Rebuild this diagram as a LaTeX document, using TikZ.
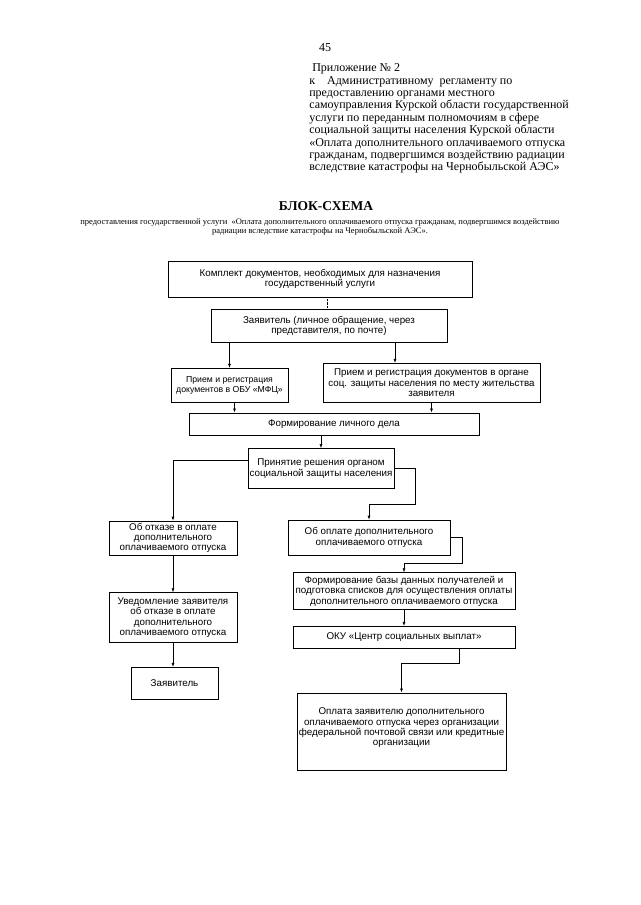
\documentclass[tikz,border=0pt]{standalone}
\usepackage{fontspec}
\setmainfont{Liberation Serif}
\newfontfamily\boxfont{Liberation Sans}
\usetikzlibrary{arrows.meta}
\usetikzlibrary{positioning}

\begin{document}
\begin{tikzpicture}[x=1pt, y=-1pt,
                >={Latex[length=4pt,width=3pt]},
                line width=0.6pt,
                block/.style = {shape=rectangle, draw, inner sep=1pt, align=center,
                                font=\boxfont\fontsize{9.8}{10.4}\selectfont},
                header/.style = {inner sep=0pt, align=left,
                                 font=\fontsize{12}{12.4}\selectfont}]
            \fill[white] (0,0) rectangle (640,905);
            \useasboundingbox (0,0) rectangle (640,905);

            % шапка
            \node (q_page) [inner sep=0pt, font=\fontsize{12}{12}\selectfont] at (325,48) {45};
            \node (q_prilozh) [header, anchor=north west] at (309,63.5)
                {\hspace*{3pt}Приложение № 2 \\
                 к\quad Административному\ \ регламенту по \\
                 предоставлению органами местного \\
                 самоуправления Курской области государственной \\
                 услуги по переданным полномочиям в сфере \\
                 социальной защиты населения Курской области \\
                 «Оплата дополнительного оплачиваемого отпуска \\
                 гражданам, подвергшимся воздействию радиации \\
                 вследствие катастрофы на Чернобыльской АЭС»};

            \node (q_title) [inner sep=0pt, font=\bfseries\fontsize{13.5}{15}\selectfont] at (326,206) {БЛОК-СХЕМА};
            \node (q_subtitle) [inner sep=0pt, align=center, font=\fontsize{8.5}{9}\selectfont] at (320,227)
                {предоставления государственной услуги\ \ «Оплата дополнительного оплачиваемого отпуска гражданам, подвергшимся воздействию \\
                 радиации вследствие катастрофы на Чернобыльской АЭС».};

            % блоки
            \node (q_komplekt) [block, minimum width=304pt, minimum height=36pt] at (320,279)
                {Комплект документов, необходимых для назначения \\ государственный услуги};
            \node (q_zayav) [block, minimum width=236pt, minimum height=33pt, below = 12pt of q_komplekt, xshift=9pt]
                {Заявитель (личное обращение, через \\ представителя, по почте)};

            \node (q_mfc) [block, font=\boxfont\fontsize{8.7}{10.4}\selectfont, minimum width=117pt, minimum height=34pt, below = 25pt of q_zayav, xshift=-99.5pt]
                {Прием и регистрация \\ документов в ОБУ «МФЦ»};
            \node (q_organ) [block, minimum width=217pt, minimum height=39pt, below = 20pt of q_zayav, xshift=102.5pt]
                {Прием и регистрация документов в органе \\ соц. защиты населения по месту жительства \\ заявителя};

            \node (q_delo) [block, minimum width=290pt, minimum height=22pt, below = 10pt of q_mfc, xshift=104.5pt]
                {Формирование личного дела};
            \node (q_reshenie) [block, minimum width=146pt, minimum height=40pt, below = 13pt of q_delo, xshift=-13pt]
                {Принятие решения органом \\ социальной защиты населения};

            \node (q_otkaz) [block, minimum width=128pt, minimum height=34pt, below = 32pt of q_reshenie, xshift=-148pt]
                {Об отказе в оплате \\ дополнительного \\ оплачиваемого отпуска};
            \node (q_uvedoml) [block, minimum width=128pt, minimum height=50pt, below = 37pt of q_otkaz]
                {Уведомление заявителя \\ об отказе в оплате \\ дополнительного \\ оплачиваемого отпуска};
            \node (q_zayav2) [block, minimum width=87pt, minimum height=32pt, below = 24pt of q_uvedoml, xshift=1.5pt]
                {Заявитель};

            \node (q_oplata) [block, minimum width=162pt, minimum height=35pt, below = 31pt of q_reshenie, xshift=48pt]
                {Об оплате дополнительного \\ оплачиваемого отпуска};
            \node (q_baza) [block, minimum width=222pt, minimum height=37pt, below = 17pt of q_oplata, xshift=35pt]
                {Формирование базы данных получателей и \\ подготовка списков для осуществления оплаты \\ дополнительного оплачиваемого отпуска};
            \node (q_oku) [block, minimum width=222pt, minimum height=22pt, below = 16pt of q_baza]
                {ОКУ «Центр социальных выплат»};
            \node (q_vyplata) [block, minimum width=209pt, minimum height=77pt, below = 44pt of q_oku, xshift=-2.5pt]
                {Оплата заявителю дополнительного \\ оплачиваемого отпуска через организации \\ федеральной почтовой связи или кредитные \\ организации \\[-1.5pt]};

            \coordinate (c_komplekt) at ([xshift=7pt]q_komplekt.south);
            \coordinate (c_mfc) at ([xshift=5pt]q_mfc.south);
            \coordinate (c_organ) at ([xshift=-36.5pt]q_organ.north);

            % связи
            \draw[densely dotted, line width=0.4pt] (c_komplekt) -- (c_komplekt |- q_zayav.north);
            \draw[->] (q_mfc.north |- q_zayav.south) -- (q_mfc.north);
            \draw[->] (c_organ |- q_zayav.south) -- (c_organ);
            \draw[->] (c_mfc) -- (c_mfc |- q_delo.north);
            \draw[->] (q_organ.south) -- (q_organ.south |- q_delo.north);
            \draw[->] (q_reshenie.north |- q_delo.south) -- (q_reshenie.north);
            \draw[->] ([yshift=8pt]q_reshenie.west) -| (q_otkaz.north);
            \draw[->] (q_reshenie.east) -| ++(21,36) -| (q_oplata.north);
            \draw[->] (q_oplata.east) -| ++(12,26) -| (q_baza.north);
            \draw[->] (q_uvedoml.south) -- (q_uvedoml.south |- q_zayav2.north);
            \draw[->] ([xshift=55pt]q_oku.south) -- ++(0,15) -| (q_vyplata.north);
            \path[->]
            (q_otkaz)   edge (q_uvedoml)
            (q_baza)    edge (q_oku);
\end{tikzpicture}
\end{document}
